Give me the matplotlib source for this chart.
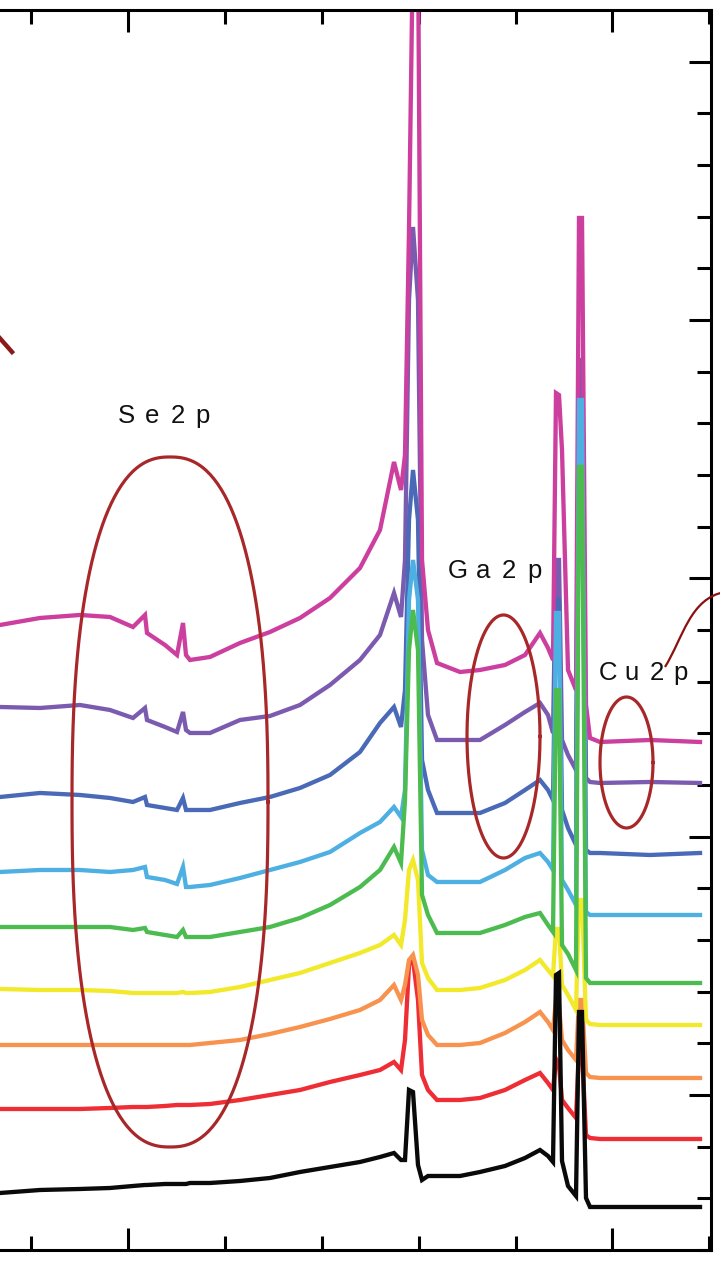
import numpy as np
import matplotlib
matplotlib.use('Agg')
import matplotlib.pyplot as plt
from matplotlib.path import Path
from matplotlib.patches import PathPatch

# energy axis (arbitrary units, no labels on the original)
energy = [0, 40, 80, 110, 133, 145, 147, 165, 177, 183, 186, 190, 210, 240, 270,
          300, 330, 360, 380, 394, 401, 405, 409, 413, 418, 422, 428, 437, 460,
          480, 505, 525, 540, 548, 553, 556, 559, 562, 568, 576, 579, 582, 586,
          590, 600, 650, 700]

# stacked spectra, top to bottom
magenta = [625, 632, 635, 633, 623, 635, 617, 605, 595, 627, 595, 590, 593, 607, 618,
           632, 652, 682, 720, 788, 760, 795, 1020, 1310, 1310, 690, 620, 587, 578,
           580, 585, 595, 617, 602, 590, 857, 855, 800, 580, 560, 1032, 1032, 545,
           512, 508, 510, 508]
purple = [543, 542, 545, 540, 532, 542, 530, 523, 518, 538, 520, 517, 517, 530, 534,
          545, 565, 590, 615, 657, 633, 690, 950, 1023, 950, 610, 535, 510, 510,
          510, 525, 538, 547, 535, 517, 690, 690, 510, 495, 480, 890, 890, 472,
          468, 467, 468, 467]
blue = [453, 457, 455, 452, 448, 453, 445, 442, 440, 452, 440, 440, 440, 447, 453,
        462, 475, 498, 527, 543, 523, 560, 730, 780, 730, 490, 460, 437, 437,
        437, 447, 460, 470, 460, 450, 650, 650, 440, 422, 405, 830, 830, 400,
        397, 397, 395, 397]
light_blue = [378, 380, 380, 378, 380, 383, 373, 370, 366, 383, 363, 363, 365, 372, 380,
              388, 398, 417, 428, 443, 433, 460, 650, 690, 650, 400, 375, 368, 368,
              368, 380, 392, 397, 388, 380, 637, 637, 370, 360, 345, 850, 850, 338,
              335, 335, 335, 335]
green = [323, 323, 323, 323, 320, 322, 318, 315, 313, 320, 313, 313, 313, 318, 323,
         332, 345, 363, 380, 403, 387, 450, 600, 640, 600, 355, 335, 317, 317,
         317, 325, 333, 337, 325, 318, 560, 560, 305, 296, 280, 783, 783, 272,
         267, 267, 267, 267]
yellow = [261, 260, 260, 259, 257, 257, 257, 257, 257, 258, 257, 257, 258, 263, 270,
          277, 287, 297, 305, 315, 305, 330, 380, 390, 370, 287, 272, 260, 260,
          262, 270, 280, 290, 280, 274, 321, 321, 265, 255, 240, 350, 350, 230,
          226, 225, 225, 225]
orange = [205, 205, 205, 205, 205, 205, 205, 205, 205, 205, 205, 205, 207, 210, 216,
          223, 231, 240, 250, 265, 250, 265, 290, 295, 275, 230, 215, 205, 205,
          207, 217, 228, 238, 228, 220, 250, 245, 210, 200, 190, 250, 250, 177,
          173, 172, 172, 172]
red = [141, 141, 141, 142, 143, 143, 143, 144, 145, 145, 145, 145, 146, 150, 155,
       160, 168, 175, 180, 188, 180, 210, 285, 290, 250, 175, 160, 150, 150,
       152, 160, 170, 177, 167, 160, 191, 185, 150, 142, 132, 200, 200, 115,
       112, 111, 111, 111]
black = [57, 60, 61, 62, 64, 65, 65, 66, 66, 66, 66, 67, 67, 69, 72,
         78, 83, 88, 93, 97, 90, 90, 160, 158, 85, 70, 74, 74, 74,
         78, 84, 92, 100, 94, 88, 275, 277, 89, 64, 54, 238, 238, 52,
         43, 43, 43, 43]

# drawing order, back to front
spectra = [purple, blue, magenta, red, orange, yellow, light_blue, green, black]
colors = ['#7b5bb0', '#4a6ab8', '#cc3f9f', '#ee2d35', '#f8924f', '#f2e92a',
          '#4eb0e2', '#4cbc50', '#0a0a0a']

# annotated regions: label, first letter position, ellipse centre, half axes, squareness
regions = ['Se2p', 'Ga2p', 'Cu2p']
label_pos = [(126.5, 827), (458, 672), (607.5, 570)]
label_pitch = [25.5, 25.5, 24.5]
ring_centre = [(170, 448), (503.5, 513.5), (626.5, 487.5)]
ring_size = [(98, 345), (36.5, 121.5), (26.5, 65.5)]
ring_power = [2.4, 2.0, 2.0]

ring_col = '#a8282a'

fig = plt.figure(figsize=(7.2, 12.63), dpi=100)
ax = fig.add_axes([0, 0.0103, 0.9875, 0.9818])

for i, (ys, c) in enumerate(zip(spectra, colors)):
    ax.plot(energy, ys, color=c, lw=3.1, solid_joinstyle='miter', zorder=2 + i * 0.1)

t = np.linspace(0, 2 * np.pi, 300)
for (cx, cy), (a, b), n in zip(ring_centre, ring_size, ring_power):
    ct, st = np.cos(t), np.sin(t)
    xs = cx + a * np.sign(ct) * np.abs(ct) ** (2 / n)
    ys = cy + b * np.sign(st) * np.abs(st) ** (2 / n)
    ax.plot(xs, ys, color=ring_col, lw=2.3, zorder=5)

# letter-spaced labels
for name, (lx, ly), pitch in zip(regions, label_pos, label_pitch):
    for k, ch in enumerate(name):
        ax.text(lx + k * pitch, ly, ch, ha='center', va='baseline', fontsize=18.5,
                family='Liberation Sans', color='#111111', zorder=6)

# cropped connector lines
verts = [(665, 583), (683, 612), (690, 652), (725, 658)]
path = Path(verts, [Path.MOVETO, Path.CURVE4, Path.CURVE4, Path.CURVE4])
ax.add_patch(PathPatch(path, fc='none', ec='#8b1010', lw=1.6, clip_on=False, zorder=6))
ax.plot([-3, 12], [915, 898], color='#8b1a1a', lw=3.2, clip_on=False, zorder=6)

ax.set_xlim(0, 711)
ax.set_ylim(0, 1240)

step_x = 96.9
ax.set_xticks([31 + step_x * k for k in (1, 6)])
ax.set_xticks([31 + step_x * k for k in (0, 2, 3, 4, 5, 7)], minor=True)
step_y = 1240 / 24
ax.set_yticks([step_y * k for k in (3, 8, 13, 18, 23)])
ax.set_yticks([step_y * k for k in range(25) if k not in (3, 8, 13, 18, 23)], minor=True)
ax.set_xticklabels([])
ax.set_yticklabels([])
ax.tick_params(axis='x', which='both', direction='in', top=True, bottom=True, width=2.2)
ax.tick_params(axis='y', which='both', direction='in', left=False, right=True, width=2.2)
ax.tick_params(which='major', length=16)
ax.tick_params(which='minor', length=10)
ax.spines['left'].set_visible(False)
for s in ('top', 'bottom', 'right'):
    ax.spines[s].set_linewidth(2.2)

fig.savefig('out.png', dpi=100)
